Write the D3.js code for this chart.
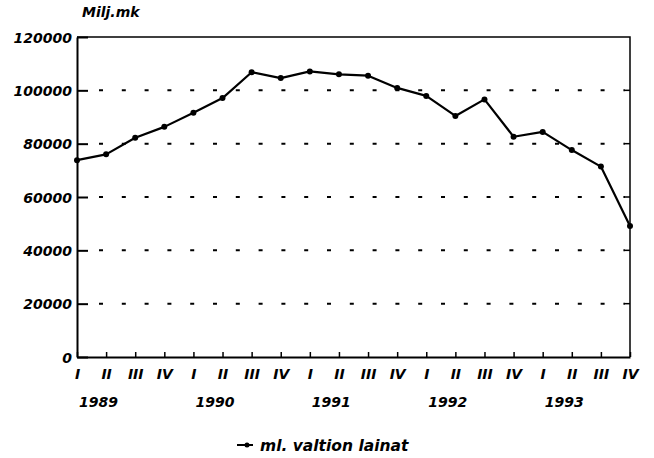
<!DOCTYPE html>
<html>
<head>
<meta charset="utf-8">
<script src="https://cdn.jsdelivr.net/npm/d3@7"></script>
<style>
    body { margin: 0; background: #fff; }
    svg text { font-family: "DejaVu Sans", sans-serif; font-weight: bold; font-style: italic; fill: #000; }
</style>
</head>
<body>
<div class="chart-container"></div>
<script>
// Data
const years = ['1989', '1990', '1991', '1992', '1993'];
const quarters = ['I', 'II', 'III', 'IV'];
const values = [
    73800, 76000, 82200, 86300,
    91600, 97100, 106800, 104600,
    107100, 106000, 105500, 100900,
    97900, 90400, 96600, 82600,
    84400, 77600, 71400, 49100
];
const yTicks = [0, 20000, 40000, 60000, 80000, 100000, 120000];
const unitLabel = 'Milj.mk';
const seriesName = 'ml. valtion lainat';

// Margin convention
const margin = {top: 37, right: 24, bottom: 101, left: 77};
const width = 654 - margin.left - margin.right;
const height = 458 - margin.top - margin.bottom;

// Scales
const xScale = d3.scalePoint()
    .domain(d3.range(values.length))
    .range([0, width]);

const yScale = d3.scaleLinear()
    .domain([0, 120000])
    .range([height, 0]);

// Draw base
const svg = d3.select('.chart-container')
    .append('svg')
    .attr('width', width + margin.left + margin.right)
    .attr('height', height + margin.top + margin.bottom)
    .append('g')
    .attr('transform', `translate(${margin.left}, ${margin.top})`);

// Dotted grid
const grid = svg.append('g').attr('class', 'grid');
yTicks.filter(d => d > 0 && d < 120000).forEach(d => {
    grid.append('line')
        .attr('x1', 11).attr('x2', width - 5)
        .attr('y1', yScale(d)).attr('y2', yScale(d))
        .attr('stroke', '#000')
        .attr('stroke-width', 2)
        .attr('stroke-dasharray', '4 18.8')
        .attr('stroke-dashoffset', -11);
    grid.append('line')
        .attr('x1', width - 5).attr('x2', width)
        .attr('y1', yScale(d)).attr('y2', yScale(d))
        .attr('stroke', '#000')
        .attr('stroke-width', 1.5);
});

// Frame top and right
svg.append('path')
    .attr('d', `M0,0H${width}V${height}`)
    .attr('fill', 'none')
    .attr('stroke', '#000')
    .attr('stroke-width', 1.5);

// Axes
const yAxis = d3.axisLeft(yScale)
    .tickValues(yTicks)
    .tickFormat(d3.format('d'))
    .tickSizeInner(-11)
    .tickSizeOuter(0)
    .tickPadding(5);

const yAxisDraw = svg.append('g')
    .attr('class', 'y axis')
    .call(yAxis);

yAxisDraw.select('.domain').attr('stroke-width', 2);
yAxisDraw.selectAll('.tick line').attr('stroke-width', 2);
yAxisDraw.selectAll('.tick text')
    .style('font-size', '14px')
    .attr('dy', '0.36em');

const xAxis = d3.axisBottom(xScale)
    .tickFormat(i => quarters[i % 4])
    .tickSizeInner(-5)
    .tickSizeOuter(0)
    .tickPadding(12);

const xAxisDraw = svg.append('g')
    .attr('class', 'x axis')
    .attr('transform', `translate(0, ${height})`)
    .call(xAxis);

xAxisDraw.select('.domain').attr('stroke-width', 2);
xAxisDraw.selectAll('.tick line').attr('stroke-width', 1.5);
xAxisDraw.selectAll('.tick text').style('font-size', '14px');

// Year labels
svg.append('g')
    .attr('class', 'years')
    .selectAll('text')
    .data(years)
    .enter()
    .append('text')
    .attr('x', (d, i) => xScale(i * 4) + 2)
    .attr('y', height + 50)
    .style('font-size', '14px')
    .text(d => d);

// Unit label
svg.append('text')
    .attr('x', 5)
    .attr('y', -20)
    .style('font-size', '14px')
    .text(unitLabel);

// Line
const line = d3.line()
    .x((d, i) => xScale(i))
    .y(d => yScale(d));

svg.append('path')
    .datum(values)
    .attr('fill', 'none')
    .attr('stroke', '#000')
    .attr('stroke-width', 2.2)
    .attr('stroke-linejoin', 'round')
    .attr('d', line);

svg.append('g')
    .selectAll('circle')
    .data(values)
    .enter()
    .append('circle')
    .attr('cx', (d, i) => xScale(i))
    .attr('cy', d => yScale(d))
    .attr('r', 3)
    .attr('fill', '#000');

// Legend
const legend = svg.append('g')
    .attr('transform', `translate(${160}, ${height + 88})`);

legend.append('line')
    .attr('x1', 0).attr('x2', 16)
    .attr('stroke', '#000')
    .attr('stroke-width', 2);

legend.append('circle')
    .attr('cx', 10).attr('r', 2.5)
    .attr('fill', '#000');

legend.append('text')
    .attr('x', 23)
    .attr('dy', '0.36em')
    .style('font-size', '15.5px')
    .text(seriesName);
</script>
</body>
</html>
